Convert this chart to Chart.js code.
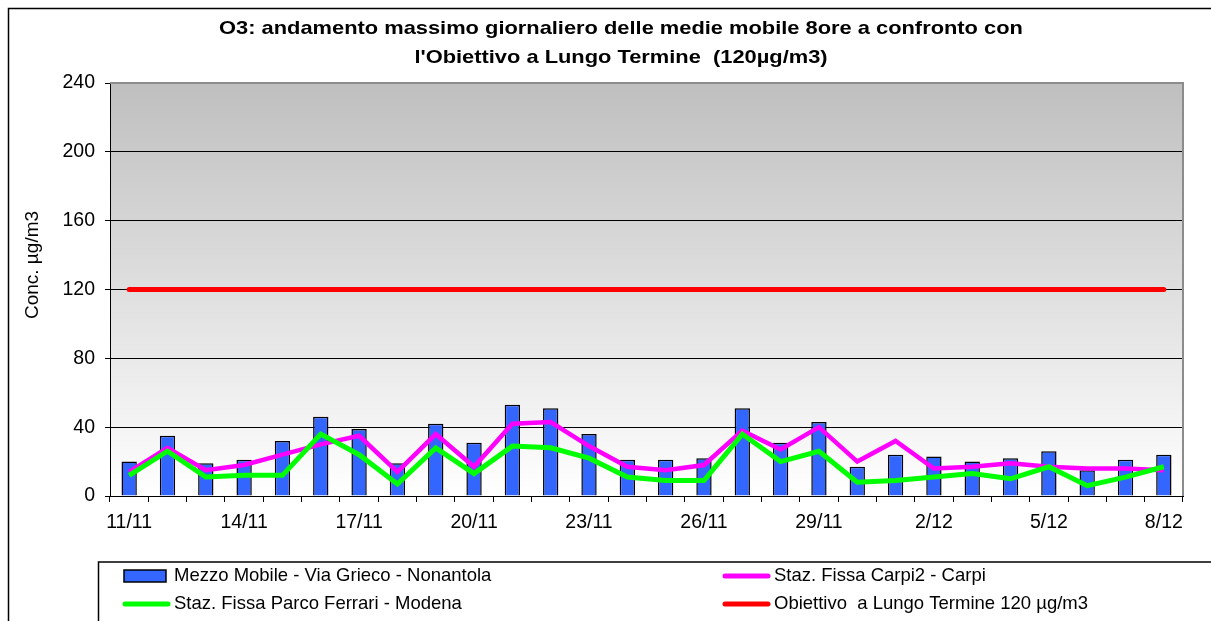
<!DOCTYPE html>
<html lang="it">
<head>
<meta charset="UTF-8">
<title>O3 - medie mobili 8 ore</title>
<script src="https://cdn.jsdelivr.net/npm/chart.js"></script>
<style>
  html, body { margin: 0; padding: 0; background: #fff; }
  #wrap { width: 1211px; height: 621px; position: relative; }
</style>
</head>
<body>
<div id="wrap"><canvas id="o3Chart"></canvas></div>
<script>
    // dati
    const giorni = ['11/11','12/11','13/11','14/11','15/11','16/11','17/11','18/11','19/11','20/11',
                    '21/11','22/11','23/11','24/11','25/11','26/11','27/11','28/11','29/11','30/11',
                    '1/12','2/12','3/12','4/12','5/12','6/12','7/12','8/12'];
    const mezzoMobile = [20,35,19,21,32,46,39,19,42,31,53,51,36,21,21,22,51,31,43,17,24,23,20,22,26,15,21,24];
    const carpi2 = [14,28,15,18,24,30,35,14,36,17,42,43,29,17,15,18,38,27,40,20,32,16,17,19,17,16,16,15];
    const parcoFerrari = [12,26,11,12,12,36,24,7,28,13,29,28,22,11,9,9,36,20,26,8,9,11,13,10,17,6,11,17];
    const obiettivo = [120,120,120,120,120,120,120,120,120,120,120,120,120,120,
                       120,120,120,120,120,120,120,120,120,120,120,120,120,120];
    const yTicks = [0, 40, 80, 120, 160, 200, 240];

    const titolo = ["O3: andamento massimo giornaliero delle medie mobile 8ore a confronto con",
                    "l'Obiettivo a Lungo Termine  (120µg/m3)"];
    const titoloAsseY = 'Conc. µg/m3';
    const FONT = "Arial, 'Liberation Sans', sans-serif";

    // sfondo sfumato dell'area del grafico + cornici e titoli
    const sfondo = {
        id: 'sfondo',
        beforeDraw(chart) {
            const { ctx, chartArea: a } = chart;
            ctx.save();
            const g = ctx.createLinearGradient(0, a.top, 0, a.bottom);
            g.addColorStop(0, '#bfbfbf');
            g.addColorStop(1, '#ffffff');
            ctx.fillStyle = g;
            ctx.fillRect(a.left, a.top, a.right - a.left, a.bottom - a.top);
            ctx.restore();
        },
        afterDraw(chart) {
            const { ctx, chartArea: a } = chart;
            ctx.save();
            // bordo grigio in alto e a destra
            ctx.strokeStyle = '#8c8c8c';
            ctx.lineWidth = 2;
            ctx.beginPath();
            ctx.moveTo(a.left, a.top);
            ctx.lineTo(a.right, a.top);
            ctx.lineTo(a.right, a.bottom);
            ctx.stroke();
            // cornice esterna
            ctx.strokeStyle = '#000';
            ctx.lineWidth = 1.5;
            ctx.strokeRect(8.5, 8.5, 1300, 700);
            // titolo (il carattere dell'originale e' piu' largo)
            ctx.fillStyle = '#000';
            ctx.font = 'bold 19px ' + FONT;
            ctx.textAlign = 'center';
            ctx.textBaseline = 'middle';
            [[titolo[0], 29], [titolo[1], 58]].forEach(([t, y]) => {
                ctx.save();
                ctx.translate(621, y);
                ctx.scale(1.15, 1);
                ctx.fillText(t, 0, 0);
                ctx.restore();
            });
            // titolo asse y
            ctx.save();
            ctx.translate(33, 265);
            ctx.rotate(-Math.PI / 2);
            ctx.font = '19px ' + FONT;
            ctx.fillText(titoloAsseY, 0, 0);
            ctx.restore();
            ctx.restore();
        }
    };

    // legenda su due colonne come nell'originale
    const legenda = {
        id: 'legenda',
        afterDraw(chart) {
            const ctx = chart.ctx;
            ctx.save();
            ctx.strokeStyle = '#000';
            ctx.lineWidth = 1.5;
            ctx.strokeRect(98.5, 562, 1200, 100);
            const colX = [123, 723];
            const rowY = [576, 604];
            ctx.font = '18.5px ' + FONT;
            ctx.textBaseline = 'middle';
            ctx.textAlign = 'left';
            chart.data.datasets.forEach((ds, i) => {
                const x = colX[i % 2], y = rowY[Math.floor(i / 2)];
                if (ds.type === 'bar') {
                    ctx.fillStyle = ds.backgroundColor;
                    ctx.fillRect(x + 1, y - 6, 42, 12);
                    ctx.strokeStyle = '#000';
                    ctx.lineWidth = 1.5;
                    ctx.strokeRect(x + 1, y - 6, 42, 12);
                } else {
                    ctx.strokeStyle = ds.borderColor;
                    ctx.lineWidth = 5;
                    ctx.lineCap = 'round';
                    ctx.beginPath();
                    ctx.moveTo(x + 2, y);
                    ctx.lineTo(x + 45, y);
                    ctx.stroke();
                }
                ctx.fillStyle = '#000';
                ctx.fillText(ds.label, x + 51, y);
            });
            ctx.restore();
        }
    };

    new Chart(document.getElementById('o3Chart'), {
        data: {
            labels: giorni,
            datasets: [
                {
                    type: 'bar',
                    label: 'Mezzo Mobile - Via Grieco - Nonantola',
                    data: mezzoMobile,
                    backgroundColor: '#3366ff',
                    borderColor: '#000',
                    borderWidth: 1.5,
                    barPercentage: 0.4,
                    categoryPercentage: 1,
                    order: 4
                },
                {
                    type: 'line',
                    label: 'Staz. Fissa Carpi2 - Carpi',
                    data: carpi2,
                    borderColor: '#ff00ff',
                    backgroundColor: '#ff00ff',
                    borderWidth: 4.5,
                    pointRadius: 0,
                    tension: 0,
                    order: 3
                },
                {
                    type: 'line',
                    label: 'Staz. Fissa Parco Ferrari - Modena',
                    data: parcoFerrari,
                    borderColor: '#00ff00',
                    backgroundColor: '#00ff00',
                    borderWidth: 5,
                    pointRadius: 0,
                    tension: 0,
                    order: 2
                },
                {
                    type: 'line',
                    label: 'Obiettivo  a Lungo Termine 120 µg/m3',
                    data: obiettivo,
                    borderColor: '#ff0000',
                    backgroundColor: '#ff0000',
                    borderWidth: 5,
                    borderCapStyle: 'round',
                    pointRadius: 0,
                    tension: 0,
                    order: 1
                }
            ]
        },
        options: {
            responsive: true,
            maintainAspectRatio: false,
            animation: false,
            layout: { padding: { left: 0, top: 83, right: 28, bottom: 85 } },
            plugins: {
                legend: { display: false },
                title: { display: false },
                tooltip: { enabled: false }
            },
            scales: {
                x: {
                    type: 'category',
                    offset: true,
                    afterFit(scale) { scale.height = 40; },
                    grid: {
                        offset: true,
                        drawOnChartArea: false,
                        drawTicks: true,
                        tickLength: 6,
                        color: '#000'
                    },
                    border: { color: '#000', width: 1 },
                    ticks: {
                        autoSkip: false,
                        maxRotation: 0,
                        padding: 9,
                        color: '#000',
                        font: { family: FONT, size: 19.5 },
                        callback(v, i) { return i % 3 === 0 ? giorni[i] : ''; }
                    }
                },
                y: {
                    min: yTicks[0],
                    max: yTicks[yTicks.length - 1],
                    afterFit(scale) { scale.width = 110; },
                    afterBuildTicks(scale) { scale.ticks = yTicks.map(v => ({ value: v })); },
                    grid: {
                        color: '#000',
                        lineWidth: 1,
                        drawTicks: true,
                        tickLength: 5
                    },
                    border: { color: '#000', width: 1 },
                    ticks: {
                        padding: 10,
                        color: '#000',
                        font: { family: FONT, size: 19.5 }
                    }
                }
            }
        },
        plugins: [sfondo, legenda]
    });
</script>
</body>
</html>
